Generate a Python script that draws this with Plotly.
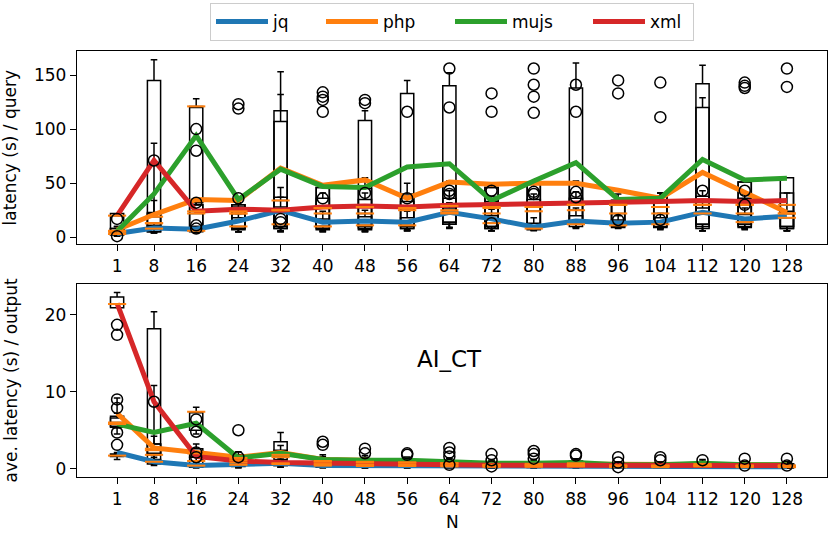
import plotly.graph_objects as go

# ---- data ----
N = [1, 8, 16, 24, 32, 40, 48, 56, 64, 72, 80, 88, 96, 104, 112, 120, 128]
SERIES = ["jq", "php", "mujs", "xml"]
COLORS = {"jq": "#1f77b4", "php": "#ff7f0e", "mujs": "#2ca02c", "xml": "#d62728"}

# top panel: latency (s) / query -- mean lines
jq_top = [3.5, 8.5, 7.5, 15, 25, 14, 15, 14, 23, 17, 9.5, 15, 13, 14, 23, 17, 19.5]
php_top = [7, 21, 35, 34, 64, 48, 53, 36, 51, 49, 50, 50, 43.5, 36, 60, 42, 23]
mujs_top = [5.5, 40, 94, 35, 63, 47, 46, 65, 68, 34, 52, 69, 35, 36, 72, 53, 54.5]
xml_top = [20, 71, 24, 26, 25, 28, 29, 28, 29.5, 30, 31, 31.5, 32, 33, 34, 33, 34]

# top panel box stats: lower whisker, q1, median, q3, upper whisker
jq_top_lo = [1.5, 4, 4, 5, 5, 5, 5, 6, 8, 6, 6, 8, 8, 7, 6, 7, 6]
jq_top_q1 = [2, 5, 5, 7, 8, 7, 7, 8, 12, 8, 7, 10, 9, 9, 10, 9, 8]
jq_top_med = [3, 8, 6, 10, 12, 10, 11, 11, 22, 13, 8, 12, 11, 12, 22, 14, 18]
jq_top_q3 = [5, 11, 9, 18, 28, 17, 19, 18, 27, 20, 13, 20, 16, 18, 27, 21, 24]
jq_top_hi = [6, 13, 10, 22, 37, 24, 25, 24, 32, 26, 18, 27, 20, 22, 33, 27, 30]
jq_top_out = [[1], [], [11, 8], [], [17, 14], [], [], [], [], [13], [], [], [16], [16], [], [], []]

php_top_lo = [3, 5, 6, 5, 6, 6, 6, 6, 9, 6, 7, 9, 9, 8, 6, 8, 6]
php_top_q1 = [5, 8, 10, 8, 10, 10, 10, 10, 14, 10, 10, 14, 12, 12, 12, 12, 10]
php_top_med = [6, 13, 22, 22, 25, 22, 22, 27, 25, 27, 28, 30, 30, 28, 30, 30, 22]
php_top_q3 = [8, 22, 30, 30, 107, 46, 45, 40, 50, 46, 50, 50, 34, 38, 120, 51, 30]
php_top_hi = [10, 34, 35, 35, 132, 46, 55, 50, 52, 50, 52, 52, 40, 41, 129, 51, 41]
php_top_out = [[], [], [32], [], [], [36], [41], [36], [43, 40], [43], [42, 40], [42, 37], [], [], [43], [43, 30], []]

mujs_top_lo = [2, 5, 30, 5, 5, 5, 5, 6, 9, 6, 7, 9, 9, 8, 6, 8, 6]
mujs_top_q1 = [3, 10, 32, 8, 8, 8, 8, 8, 12, 8, 9, 12, 10, 10, 8, 10, 8]
mujs_top_med = [5, 19, 121, 22, 34, 27, 28, 25, 23, 22, 24, 25, 22, 22, 30, 22, 22]
mujs_top_q3 = [8, 23, 121, 30, 117, 46, 108, 133, 140, 46, 50, 138, 34, 38, 142, 51, 55]
mujs_top_hi = [10, 87, 128, 34, 153, 46, 117, 145, 152, 46, 50, 161, 34, 41, 159, 51, 55]
mujs_top_out = [[], [], [], [123, 119], [], [134, 130, 127, 116], [127, 124], [116], [156, 120],
                [133, 116], [156, 141, 130, 115], [141, 116], [145, 133], [143, 111], [],
                [143, 140, 138], [156, 139]]

xml_top_lo = [1, 4, 5, 5, 6, 6, 6, 7, 9, 6, 7, 9, 9, 8, 6, 8, 6]
xml_top_q1 = [3, 5, 8, 8, 10, 10, 10, 10, 14, 10, 10, 14, 12, 12, 12, 12, 10]
xml_top_med = [20, 13, 24, 24, 25, 27, 28, 27, 29, 28, 28, 30, 30, 28, 30, 30, 30]
xml_top_q3 = [22, 145, 30, 28, 37, 36, 35, 33, 36, 33, 35, 36, 34, 34, 38, 36, 41]
xml_top_hi = [22, 164, 35, 32, 46, 41, 41, 38, 43, 38, 40, 42, 36, 41, 43, 40, 41]
xml_top_out = [[17], [71], [100, 80], [36], [], [], [], [], [], [], [], [], [], [], [], [], []]

# bottom panel: ave. latency (s) / output -- mean lines
jq_bot = [2.1, 0.9, 0.4, 0.6, 0.7, 0.4, 0.4, 0.4, 0.35, 0.3, 0.3, 0.3, 0.25, 0.25, 0.3, 0.25, 0.25]
php_bot = [7.2, 2.7, 2.1, 1.5, 2.1, 1.2, 1.1, 0.9, 0.8, 0.6, 0.6, 0.6, 0.5, 0.5, 0.5, 0.5, 0.5]
mujs_bot = [5.8, 4.7, 5.9, 1.4, 2.0, 1.2, 1.1, 1.1, 0.9, 0.7, 0.7, 0.8, 0.5, 0.5, 0.7, 0.5, 0.5]
xml_bot = [21.5, 8.7, 1.6, 1.0, 0.8, 0.7, 0.6, 0.6, 0.5, 0.45, 0.45, 0.45, 0.4, 0.4, 0.4, 0.4, 0.4]

jq_bot_lo = [1.2, 0.4, 0.1, 0.1, 0.2, 0.1, 0.1, 0.1, 0.1, 0.05, 0.05, 0.05, 0.05, 0.05, 0.05, 0.05, 0.05]
jq_bot_q1 = [1.6, 0.6, 0.2, 0.3, 0.4, 0.2, 0.2, 0.2, 0.2, 0.15, 0.15, 0.15, 0.1, 0.1, 0.15, 0.1, 0.1]
jq_bot_med = [1.7, 0.9, 0.4, 0.5, 0.6, 0.4, 0.35, 0.35, 0.3, 0.25, 0.25, 0.3, 0.2, 0.2, 0.3, 0.2, 0.2]
jq_bot_q3 = [1.9, 1.2, 0.6, 0.8, 0.9, 0.6, 0.5, 0.5, 0.45, 0.4, 0.4, 0.4, 0.35, 0.35, 0.4, 0.35, 0.35]
jq_bot_hi = [2.1, 1.5, 0.8, 1.0, 1.1, 0.8, 0.7, 0.7, 0.6, 0.6, 0.6, 0.6, 0.5, 0.5, 0.6, 0.5, 0.5]
jq_bot_out = [[], [], [2.1, 1.5], [1.5], [], [], [], [], [0.5], [0.3], [], [], [0.2], [], [], [0.4], [0.4]]

php_bot_lo = [4.5, 1.2, 0.9, 0.6, 0.9, 0.4, 0.3, 0.3, 0.3, 0.2, 0.2, 0.2, 0.2, 0.2, 0.2, 0.2, 0.2]
php_bot_q1 = [5.5, 1.8, 1.5, 1.0, 1.5, 0.7, 0.6, 0.5, 0.5, 0.4, 0.4, 0.4, 0.3, 0.3, 0.3, 0.3, 0.3]
php_bot_med = [6.0, 2.6, 2.0, 1.4, 1.8, 1.0, 0.9, 0.8, 0.7, 0.5, 0.5, 0.5, 0.4, 0.4, 0.45, 0.4, 0.4]
php_bot_q3 = [6.8, 3.2, 2.6, 1.8, 2.4, 1.4, 1.3, 1.1, 1.0, 0.8, 0.8, 0.8, 0.6, 0.6, 0.7, 0.6, 0.6]
php_bot_hi = [7.2, 4.2, 3.2, 2.2, 3.0, 1.8, 1.7, 1.5, 1.3, 1.1, 1.1, 1.1, 0.9, 0.9, 1.0, 0.9, 0.9]
php_bot_out = [[9.0, 7.9], [], [6.4, 4.8], [], [], [], [], [], [], [1.1], [1.3], [], [0.8], [], [], [], []]

mujs_bot_lo = [5.3, 0.8, 4.5, 0.5, 0.6, 0.3, 0.3, 0.3, 0.3, 0.2, 0.2, 0.2, 0.1, 0.1, 0.2, 0.1, 0.1]
mujs_bot_q1 = [5.4, 2.0, 5.0, 0.9, 1.2, 0.7, 0.6, 0.6, 0.5, 0.4, 0.4, 0.5, 0.3, 0.3, 0.5, 0.3, 0.3]
mujs_bot_med = [5.8, 2.4, 7.4, 1.1, 1.5, 0.9, 0.8, 0.8, 0.7, 0.5, 0.6, 0.7, 0.4, 0.4, 0.6, 0.4, 0.4]
mujs_bot_q3 = [6.6, 3.2, 7.4, 1.5, 3.5, 1.2, 1.1, 1.1, 1.0, 0.8, 0.9, 1.0, 0.6, 0.6, 0.9, 0.6, 0.6]
mujs_bot_hi = [9.2, 10.8, 8.0, 1.8, 4.7, 1.6, 1.5, 1.5, 1.4, 1.1, 1.2, 1.3, 0.9, 0.9, 1.2, 0.9, 0.9]
mujs_bot_out = [[4.7, 3.1], [], [], [5.0], [], [3.5, 3.1], [2.6, 2.0], [2.0, 1.8], [2.7, 2.1, 1.6],
                [1.9], [2.3, 1.9], [1.9, 1.7], [1.5], [1.5, 1.1], [1.1], [1.3], [1.3]]

xml_bot_lo = [20.9, 0.9, 0.3, 0.2, 0.2, 0.2, 0.1, 0.1, 0.1, 0.1, 0.1, 0.1, 0.1, 0.1, 0.1, 0.1, 0.1]
xml_bot_q1 = [20.9, 1.0, 0.6, 0.5, 0.4, 0.4, 0.3, 0.3, 0.3, 0.25, 0.25, 0.25, 0.2, 0.2, 0.2, 0.2, 0.2]
xml_bot_med = [21.4, 1.8, 1.0, 0.8, 0.7, 0.6, 0.5, 0.5, 0.45, 0.4, 0.4, 0.4, 0.35, 0.35, 0.35, 0.35, 0.35]
xml_bot_q3 = [22.3, 18.2, 1.5, 1.2, 1.0, 0.9, 0.8, 0.8, 0.7, 0.6, 0.6, 0.6, 0.55, 0.55, 0.55, 0.55, 0.55]
xml_bot_hi = [22.9, 20.4, 2.0, 1.6, 1.4, 1.2, 1.1, 1.1, 1.0, 0.9, 0.9, 0.9, 0.8, 0.8, 0.8, 0.8, 0.8]
xml_bot_out = [[18.7, 17.4], [8.7], [], [], [], [], [], [], [], [], [], [], [], [], [], [], []]

TOP = {
    "jq": (jq_top, jq_top_lo, jq_top_q1, jq_top_med, jq_top_q3, jq_top_hi, jq_top_out),
    "php": (php_top, php_top_lo, php_top_q1, php_top_med, php_top_q3, php_top_hi, php_top_out),
    "mujs": (mujs_top, mujs_top_lo, mujs_top_q1, mujs_top_med, mujs_top_q3, mujs_top_hi, mujs_top_out),
    "xml": (xml_top, xml_top_lo, xml_top_q1, xml_top_med, xml_top_q3, xml_top_hi, xml_top_out),
}
BOT = {
    "jq": (jq_bot, jq_bot_lo, jq_bot_q1, jq_bot_med, jq_bot_q3, jq_bot_hi, jq_bot_out),
    "php": (php_bot, php_bot_lo, php_bot_q1, php_bot_med, php_bot_q3, php_bot_hi, php_bot_out),
    "mujs": (mujs_bot, mujs_bot_lo, mujs_bot_q1, mujs_bot_med, mujs_bot_q3, mujs_bot_hi, mujs_bot_out),
    "xml": (xml_bot, xml_bot_lo, xml_bot_q1, xml_bot_med, xml_bot_q3, xml_bot_hi, xml_bot_out),
}

FONT = "DejaVu Sans"
BOX_W = 2.5
LEGEND_W = {"jq": 43, "php": 62, "mujs": 71, "xml": 38}

fig = go.Figure()


def add_panel(panel, xa, ya, legend):
    # boxes first, black outline, no fill
    for s in SERIES:
        mean, lo, q1, med, q3, hi, out = panel[s]
        fig.add_trace(go.Box(
            x=N, lowerfence=lo, q1=q1, median=med, q3=q3, upperfence=hi,
            width=BOX_W, whiskerwidth=0.5, boxpoints=False,
            line=dict(color="black", width=1.5), fillcolor="rgba(0,0,0,0)",
            xaxis=xa, yaxis=ya, showlegend=False, hoverinfo="skip"))
    # mean lines
    for s in SERIES:
        mean = panel[s][0]
        fig.add_trace(go.Scatter(
            x=N, y=mean, mode="lines", name=s,
            line=dict(color=COLORS[s], width=5),
            xaxis=xa, yaxis=ya, showlegend=legend,
            legendwidth=LEGEND_W[s]))
    # orange median ticks
    for s in SERIES:
        med = panel[s][3]
        fig.add_trace(go.Scatter(
            x=N, y=med, mode="markers",
            marker=dict(symbol="line-ew", size=13, line=dict(color="#ff7f0e", width=2)),
            xaxis=xa, yaxis=ya, showlegend=False, hoverinfo="skip"))
    # outliers
    for s in SERIES:
        out = panel[s][6]
        fx, fy = [], []
        for n, vals in zip(N, out):
            for v in vals:
                fx.append(n)
                fy.append(v)
        fig.add_trace(go.Scatter(
            x=fx, y=fy, mode="markers",
            marker=dict(symbol="circle-open", size=11, color="black", line=dict(width=1.5)),
            xaxis=xa, yaxis=ya, showlegend=False, hoverinfo="skip"))


add_panel(TOP, "x", "y", True)
add_panel(BOT, "x2", "y2", False)

axis_common = dict(
    showline=True, mirror=True, linecolor="black", linewidth=1.3,
    ticks="outside", ticklen=6, tickwidth=1.3, tickcolor="black",
    showgrid=False, zeroline=False,
    tickfont=dict(family=FONT, size=17, color="black"),
)
xcommon = dict(axis_common, range=[-6.6, 135.6], tickmode="array",
               tickvals=N, ticktext=[str(n) for n in N])

fig.update_layout(
    width=830, height=533,
    margin=dict(l=77, r=3, t=51, b=56, autoexpand=False),
    paper_bgcolor="white", plot_bgcolor="white",
    boxmode="overlay",
    font=dict(family=FONT, size=17, color="black"),
    xaxis=dict(xcommon, domain=[0, 1], anchor="y"),
    yaxis=dict(axis_common, domain=[0.547, 1], range=[-6.2, 172.2],
               tickvals=[0, 50, 100, 150], anchor="x"),
    xaxis2=dict(xcommon, domain=[0, 1], anchor="y2"),
    yaxis2=dict(axis_common, domain=[0, 0.453], range=[-1.08, 24.0],
                tickvals=[0, 10, 20], anchor="x2"),
    legend=dict(
        orientation="h", x=0.5, xanchor="center", y=1.113, yanchor="top",
        itemwidth=52,
        bordercolor="#cccccc", borderwidth=1, bgcolor="white",
        font=dict(family=FONT, size=17, color="black"),
    ),
    annotations=[
        dict(text="latency (s) / query", xref="paper", yref="paper",
             x=-0.0893, y=0.7735, textangle=-90, showarrow=False,
             xanchor="center", yanchor="middle", font=dict(family=FONT, size=17)),
        dict(text="ave. latency (s) / output", xref="paper", yref="paper",
             x=-0.0893, y=0.2265, textangle=-90, showarrow=False,
             xanchor="center", yanchor="middle", font=dict(family=FONT, size=17)),
        dict(text="N", xref="paper", yref="paper", x=0.5, y=-0.1056,
             showarrow=False, xanchor="center", yanchor="middle",
             font=dict(family=FONT, size=17)),
        dict(text="AI_CT", xref="x2", yref="y2", x=64, y=14.2,
             showarrow=False, xanchor="center", yanchor="middle",
             font=dict(family=FONT, size=23)),
    ],
)

# drop the default 8px page margin so the 830x533 figure fills the window
fig.write_html("out.html", config={"displayModeBar": False},
               post_script="document.body.style.margin='0';")
